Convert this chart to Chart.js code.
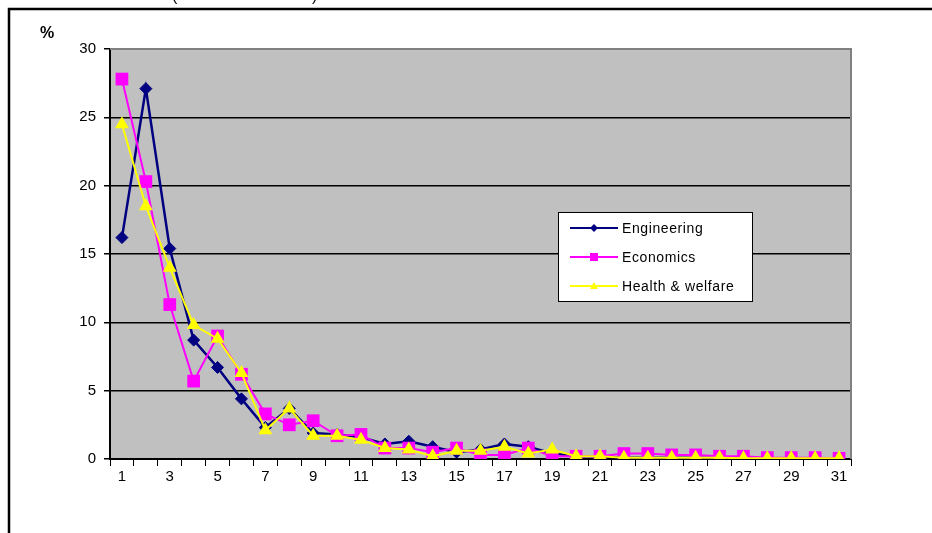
<!DOCTYPE html>
<html>
<head>
<meta charset="utf-8">
<script src="https://cdn.jsdelivr.net/npm/chart.js@4/dist/chart.umd.min.js"></script>
<style>
  html, body { margin: 0; padding: 0; background: #fff; }
  #wrap { width: 932px; height: 533px; position: relative; }
</style>
</head>
<body>
<div id="wrap"><canvas id="durationChart" width="932" height="533"></canvas></div>
<script>
const categories = [];
for (let i = 1; i <= 31; i++) categories.push(String(i));

const engineering = [16.2, 27.1, 15.4, 8.7, 6.7, 4.4, 2.3, 3.7, 1.9, 1.8, 1.6, 1.1, 1.3, 0.9, 0.5, 0.7,
  1.1, 0.9, 0.4, 0.2, 0.2, 0.1, 0.1, 0.1, 0.1, 0.1, 0.1, 0.05, 0.05, 0.05, 0.05];
const economics = [27.8, 20.3, 11.3, 5.7, 9.0, 6.2, 3.3, 2.5, 2.8, 1.7, 1.8, 0.8, 0.8, 0.5, 0.8, 0.3,
  0.3, 0.8, 0.2, 0.2, 0.2, 0.4, 0.4, 0.3, 0.3, 0.2, 0.2, 0.1, 0.1, 0.1, 0.05];
const health = [24.5, 18.5, 14.0, 9.8, 8.8, 6.3, 2.1, 3.7, 1.7, 1.7, 1.4, 0.8, 0.7, 0.2, 0.6, 0.6,
  0.9, 0.4, 0.7, 0.2, 0.2, 0.1, 0.1, 0.1, 0.1, 0.1, 0.05, 0.05, 0.05, 0.05, 0.05];

const yTicks = [0, 5, 10, 15, 20, 25, 30];
const seriesNames = ['Engineering', 'Economics', 'Health & welfare'];

const FONT = 'Arial, "Liberation Sans", sans-serif';

// fond gris, cadre et libellés autour du graphique
const framePlugin = {
  id: 'frame',
  beforeInit(chart) {
    // texte un peu espacé comme dans l'original
    chart.ctx.letterSpacing = '1px';
  },
  beforeDraw(chart) {
    const { ctx, chartArea: a } = chart;
    ctx.save();
    ctx.fillStyle = '#c0c0c0';
    ctx.fillRect(a.left, a.top, a.right - a.left, a.bottom - a.top);
    ctx.restore();
  },
  afterDraw(chart) {
    const { ctx, chartArea: a } = chart;
    ctx.save();
    // bord gris du haut et de droite
    ctx.strokeStyle = '#808080';
    ctx.lineWidth = 2;
    ctx.beginPath();
    ctx.moveTo(a.left, a.top);
    ctx.lineTo(a.right, a.top);
    ctx.lineTo(a.right, a.bottom);
    ctx.stroke();
    // cadre extérieur
    ctx.strokeStyle = '#000';
    ctx.lineWidth = 2.5;
    ctx.beginPath();
    ctx.moveTo(9, 533);
    ctx.lineTo(9, 9);
    ctx.lineTo(932, 9);
    ctx.stroke();
    // titre coupé en haut
    ctx.fillStyle = '#000';
    ctx.letterSpacing = '0px';
    ctx.font = '16px ' + FONT;
    ctx.textBaseline = 'alphabetic';
    ctx.fillText('(', 172, 1);
    ctx.fillText(')', 312, 1);
    // unité
    ctx.font = 'bold 16px ' + FONT;
    ctx.fillText('%', 40, 38);
    // légende
    const lx = 558, ly = 212, lw = 194, lh = 89;
    ctx.fillStyle = '#fff';
    ctx.fillRect(lx, ly, lw, lh);
    ctx.strokeStyle = '#000';
    ctx.lineWidth = 1;
    ctx.strokeRect(lx + 0.5, ly + 0.5, lw, lh);
    chart.data.datasets.forEach((ds, i) => {
      const y = ly + 16 + i * 29;
      ctx.strokeStyle = ds.borderColor;
      ctx.lineWidth = 2;
      ctx.beginPath();
      ctx.moveTo(lx + 12, y);
      ctx.lineTo(lx + 60, y);
      ctx.stroke();
      ctx.fillStyle = ds.borderColor;
      const cx = lx + 36;
      ctx.beginPath();
      if (ds.pointStyle === 'rectRot') {
        ctx.moveTo(cx, y - 4); ctx.lineTo(cx + 4, y); ctx.lineTo(cx, y + 4); ctx.lineTo(cx - 4, y);
      } else if (ds.pointStyle === 'rect') {
        ctx.rect(cx - 4, y - 4, 8, 8);
      } else {
        ctx.moveTo(cx, y - 4); ctx.lineTo(cx + 4, y + 3); ctx.lineTo(cx - 4, y + 3);
      }
      ctx.closePath();
      ctx.fill();
      ctx.fillStyle = '#000';
      ctx.font = '14px ' + FONT;
      ctx.letterSpacing = '0.6px';
      ctx.textBaseline = 'middle';
      ctx.fillText(ds.label, lx + 64, y + 1);
    });
    ctx.restore();
  }
};

new Chart(document.getElementById('durationChart'), {
  type: 'line',
  data: {
    labels: categories,
    datasets: [
      {
        label: seriesNames[0],
        data: engineering,
        borderColor: '#000080',
        backgroundColor: '#000080',
        borderWidth: 2.5,
        pointStyle: 'rectRot',
        pointRadius: 6,
        pointBorderWidth: 1,
        order: 3
      },
      {
        label: seriesNames[1],
        data: economics,
        borderColor: '#ff00ff',
        backgroundColor: '#ff00ff',
        borderWidth: 2,
        pointStyle: 'rect',
        pointRadius: 9,
        pointBorderWidth: 0,
        order: 2
      },
      {
        label: seriesNames[2],
        data: health,
        borderColor: '#ffff00',
        backgroundColor: '#ffff00',
        borderWidth: 2,
        pointStyle: 'triangle',
        pointRadius: 8,
        pointBorderWidth: 0,
        order: 1
      }
    ]
  },
  options: {
    responsive: false,
    animation: false,
    devicePixelRatio: 1,
    layout: { padding: { top: 49, right: 81, left: 0, bottom: 0 } },
    plugins: {
      legend: { display: false },
      title: { display: false },
      tooltip: { enabled: false }
    },
    scales: {
      x: {
        offset: true,
        grid: {
          offset: true,
          drawOnChartArea: false,
          drawTicks: true,
          tickLength: 7,
          color: '#000',
          lineWidth: 1
        },
        border: { display: true, color: '#000', width: 2 },
        ticks: {
          autoSkip: false,
          maxRotation: 0,
          padding: 2,
          color: '#000',
          font: { family: FONT, size: 15 },
          callback(value, index) {
            return index % 2 === 0 ? categories[index] : '';
          }
        },
        afterFit(axis) { axis.height = 74; }
      },
      y: {
        min: 0,
        max: 30,
        afterBuildTicks(axis) { axis.ticks = yTicks.map(v => ({ value: v })); },
        grid: {
          color: ctx => (ctx.tick && ctx.tick.value === 30 ? '#808080' : '#000'),
          lineWidth: 1.5,
          tickLength: 6,
          tickColor: '#000'
        },
        border: { display: true, color: '#000', width: 2 },
        ticks: {
          padding: 8,
          color: '#000',
          font: { family: FONT, size: 15 }
        },
        afterFit(axis) { axis.width = 110; }
      }
    }
  },
  plugins: [framePlugin]
});
</script>
</body>
</html>
